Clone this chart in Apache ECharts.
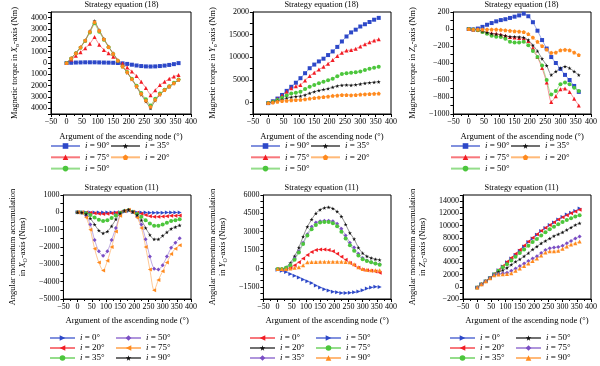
<!DOCTYPE html>
<html><head><meta charset="utf-8">
<script src="https://cdn.jsdelivr.net/npm/echarts@6/dist/echarts.min.js"></script>
<style>html,body{margin:0;padding:0;background:#fff;width:600px;height:366px;overflow:hidden}
.p{position:absolute;width:200px;height:183px}</style></head>
<body>
<div class="p" id="c1" style="left:0;top:0"></div>
<div class="p" id="c2" style="left:200px;top:0"></div>
<div class="p" id="c3" style="left:400px;top:0"></div>
<div class="p" id="c4" style="left:0;top:183px"></div>
<div class="p" id="c5" style="left:200px;top:183px"></div>
<div class="p" id="c6" style="left:400px;top:183px"></div>
<script>
// ---- data (argument of the ascending node, degrees) ----
const angles = [0,15,30,45,60,75,90,105,120,135,150,165,180,195,210,225,240,255,270,285,300,315,330,345,360];

// Panel 1: Magnetic torque in Xo-axis (Nm), strategy (18)
const p1_i90 = [0,20,40,50,60,60,60,50,40,30,20,0,-30,-80,-150,-220,-270,-300,-310,-300,-270,-230,-170,-100,-10];
const p1_i75 = [0,300,650,950,1300,1700,2300,1600,1150,850,550,250,-50,-400,-750,-1150,-1650,-2200,-2850,-2400,-1950,-1650,-1400,-1200,-1050];
const p1_i50 = [0,400,850,1350,1950,2700,3500,2750,2050,1400,800,200,-300,-800,-1400,-2000,-2650,-3200,-3750,-3150,-2700,-2350,-2050,-1750,-1450];
const p1_i35 = [0,420,880,1400,2000,2800,3700,2900,2150,1450,850,220,-300,-850,-1450,-2100,-2800,-3400,-4000,-3300,-2800,-2400,-2100,-1800,-1500];
const p1_i20 = [0,410,870,1380,1980,2750,3600,2850,2100,1420,820,210,-300,-820,-1420,-2050,-2720,-3300,-3850,-3250,-2750,-2380,-2080,-1780,-1480];

// Panel 2: Magnetic torque in Yo-axis (Nm), strategy (18)
const p2_i90 = [-100,300,900,1700,2600,3500,4400,5400,6500,7600,8400,9100,9700,10500,11300,12300,13500,14600,15500,16100,16800,17300,17800,18300,18700];
const p2_i75 = [-100,300,850,1600,2400,3200,3600,3900,4900,5900,6600,7300,7900,8600,9400,10300,11000,11500,11600,11900,12400,12900,13300,13700,14000];
const p2_i50 = [-100,200,600,1100,1600,2000,2200,2400,3000,3500,3900,4300,4600,4950,5300,5800,6300,6500,6600,6700,6900,7200,7500,7700,7900];
const p2_i35 = [-100,150,400,700,1000,1200,1350,1450,1700,2100,2400,2700,2900,3100,3400,3700,3850,3900,3850,3950,4100,4300,4400,4500,4600];
const p2_i20 = [-100,50,200,350,450,550,600,650,750,900,1050,1150,1250,1350,1500,1600,1700,1700,1650,1700,1800,1850,1900,1950,2000];

// Panel 3: Magnetic torque in Zo-axis (Nm), strategy (18)
const p3_i90 = [0,-5,5,25,50,70,90,105,115,130,145,160,180,150,80,-20,-130,-230,-330,-400,-470,-540,-600,-670,-740];
const p3_i75 = [0,-5,-10,-25,-40,-50,-55,-65,-80,-95,-100,-105,-110,-140,-220,-330,-460,-630,-860,-790,-710,-700,-740,-820,-900];
const p3_i50 = [0,-5,-15,-35,-55,-80,-90,-95,-115,-150,-160,-160,-150,-190,-260,-330,-430,-600,-770,-730,-650,-630,-650,-690,-730];
const p3_i35 = [0,-5,-10,-25,-40,-55,-60,-70,-80,-90,-90,-95,-100,-130,-190,-260,-350,-430,-540,-500,-460,-440,-460,-500,-540];
const p3_i20 = [0,-5,-5,-5,-5,-5,-5,-10,-15,-20,-25,-30,-35,-60,-100,-150,-200,-240,-280,-275,-250,-245,-250,-275,-305];

// Panel 4: Angular momentum accumulation in XO-axis (Nms), strategy (11)
const p4_i0  = [0,0,-5,-10,-10,-15,-15,-10,-10,-5,0,40,70,20,-5,-10,-15,-20,-20,-20,-20,-15,-15,-10,-10];
const p4_i20 = [0,0,-10,-30,-60,-80,-90,-80,-60,-30,0,60,100,30,-30,-80,-150,-220,-260,-260,-240,-220,-200,-190,-180];
const p4_i35 = [0,-5,-50,-150,-300,-430,-500,-450,-330,-180,-20,80,130,30,-100,-250,-450,-650,-780,-770,-700,-600,-500,-450,-400];
const p4_i50 = [0,-20,-200,-700,-1600,-2250,-2500,-2250,-1600,-900,-150,80,130,20,-250,-700,-1550,-2550,-3250,-3300,-3050,-2550,-2050,-1750,-1500];
const p4_i75 = [0,-30,-300,-1000,-2100,-2900,-3350,-2800,-2000,-1100,-200,80,150,0,-300,-900,-2000,-3300,-4500,-3900,-3400,-2900,-2400,-2100,-1900];
const p4_i90 = [0,-10,-100,-350,-700,-1050,-1200,-1100,-800,-400,-50,100,150,30,-150,-450,-900,-1300,-1550,-1550,-1350,-1150,-950,-850,-750];

// Panel 5: Angular momentum accumulation in YO-axis (Nms), strategy (11)
const p5_i0  = [-50,-100,-50,50,250,500,800,1100,1350,1500,1550,1550,1500,1400,1200,950,700,450,250,50,-100,-150,-200,-250,-350];
const p5_i20 = [-50,-50,100,450,1000,1700,2600,3400,4000,4500,4800,4950,5000,4900,4650,4250,3600,2900,2400,1700,1250,1000,850,750,700];
const p5_i35 = [-50,-50,50,300,800,1400,2100,2800,3400,3750,3850,3900,3900,3850,3650,3250,2700,2100,1700,1200,850,650,500,400,350];
const p5_i50 = [-100,-200,-300,-450,-600,-750,-900,-1050,-1200,-1400,-1550,-1700,-1800,-1900,-1950,-2000,-2000,-1980,-1950,-1880,-1780,-1650,-1550,-1500,-1520];
const p5_i75 = [-50,-50,50,250,700,1300,2000,2700,3200,3550,3750,3800,3800,3700,3450,3000,2450,1900,1450,1050,750,600,500,400,300];
const p5_i90 = [-50,-50,-50,0,50,100,250,500,520,530,540,550,550,550,550,540,530,500,350,100,-50,-100,-150,-150,-150];

// Panel 6: Angular momentum accumulation in ZO-axis (Nms), strategy (11)
const p6_i0  = [-100,400,900,1450,2050,2700,3300,4000,4600,5200,5900,6600,7300,7900,8500,9100,9600,10100,10500,11000,11400,11800,12100,12400,12800];
const p6_i20 = [-100,400,900,1450,2100,2750,3400,4100,4750,5400,6050,6750,7400,8000,8600,9150,9650,10100,10550,11000,11350,11700,12000,12300,12600];
const p6_i35 = [-100,400,900,1450,2050,2600,3200,3700,4300,4900,5500,6100,6700,7300,7800,8400,8900,9400,9800,10200,10600,10900,11200,11500,11700];
const p6_i50 = [-100,400,900,1450,2000,2400,2700,3100,3600,4100,4500,5000,5500,6100,6600,7100,7500,7900,8300,8600,8900,9300,9700,10100,10400];
const p6_i75 = [-100,400,900,1450,1950,2100,2200,2300,2600,3000,3400,3800,4200,4600,5000,5500,6000,6300,6400,6500,6700,7100,7500,7900,8200];
const p6_i90 = [-100,400,900,1400,1900,2000,2050,2100,2200,2600,3000,3400,3800,4200,4600,5100,5600,5800,5800,5900,6200,6600,6900,7100,7400];

// ---- styling ----
const FONT = 'Liberation Serif';
const BLUE = '#2d48c8', RED = '#f21c24', GREEN = '#4cc63c', BLACK = '#111111', ORANGE = '#ff8a1e', PURPLE = '#7a4ec4';
const STAR = 'path://M50,0 L61,35 L98,35 L68,57 L79,91 L50,70 L21,91 L32,57 L2,35 L39,35 Z';
const PENT = 'path://M50,0 L98,35 L79,91 L21,91 L2,35 Z';
const SQ = {symbol:'rect', rot:0}, TRI = {symbol:'triangle', rot:0}, CIR = {symbol:'circle', rot:0},
      STR = {symbol:STAR, rot:0}, PEN = {symbol:PENT, rot:0}, DIA = {symbol:'diamond', rot:0},
      TRR = {symbol:'triangle', rot:-90}, TRL = {symbol:'triangle', rot:90};

const minus = v => v < 0 ? '\u2212' + (-v) : String(v);

function yName(axis, bottom) {
  if (!bottom) return '{n|Magnetic torque in }{i|' + axis + '}{s|o}{n|-axis (Nm)}';
  return '{n|Angular momentum accumulation}\n{n|in }{i|' + axis + '}{s|O}{n|-axis (Nms)}';
}

const panels = [
  {id:'c1', title:'Strategy equation (18)', axis:'X', bottom:false, min:-4500, max:4500, step:500, lab:1000,
   fmt: v => String(Math.abs(v)), smooth:false,
   series:[['i = 90°',p1_i90,BLUE,SQ],['i = 75°',p1_i75,RED,TRI],['i = 50°',p1_i50,GREEN,CIR],['i = 35°',p1_i35,BLACK,STR],['i = 20°',p1_i20,ORANGE,PEN]],
   cols:[['i = 90°','i = 75°','i = 50°'],['i = 35°','i = 20°']]},
  {id:'c2', title:'Strategy equation (18)', axis:'Y', bottom:false, min:-2500, max:20000, step:2500, lab:5000,
   fmt: v => v === 20000 ? '2000' : minus(v), smooth:0.2,
   series:[['i = 90°',p2_i90,BLUE,SQ],['i = 75°',p2_i75,RED,TRI],['i = 50°',p2_i50,GREEN,CIR],['i = 35°',p2_i35,BLACK,STR],['i = 20°',p2_i20,ORANGE,PEN]],
   cols:[['i = 90°','i = 75°','i = 50°'],['i = 35°','i = 20°']]},
  {id:'c3', title:'Strategy equation (18)', axis:'Z', bottom:false, min:-1000, max:200, step:100, lab:200,
   fmt: minus, smooth:0.2,
   series:[['i = 90°',p3_i90,BLUE,SQ],['i = 75°',p3_i75,RED,TRI],['i = 50°',p3_i50,GREEN,CIR],['i = 35°',p3_i35,BLACK,STR],['i = 20°',p3_i20,ORANGE,PEN]],
   cols:[['i = 90°','i = 75°','i = 50°'],['i = 35°','i = 20°']]},
  {id:'c4', title:'Strategy equation (11)', axis:'X', bottom:true, min:-5000, max:1000, step:500, lab:1000,
   fmt: minus, smooth:0.3,
   series:[['i = 0°',p4_i0,BLUE,TRR],['i = 20°',p4_i20,RED,TRL],['i = 35°',p4_i35,GREEN,CIR],['i = 50°',p4_i50,PURPLE,DIA],['i = 75°',p4_i75,ORANGE,TRL],['i = 90°',p4_i90,BLACK,STR]],
   cols:[['i = 0°','i = 20°','i = 35°'],['i = 50°','i = 75°','i = 90°']]},
  {id:'c5', title:'Strategy equation (11)', axis:'Y', bottom:true, min:-2500, max:6000, step:500, lab:1500,
   fmt: minus, smooth:0.3,
   series:[['i = 0°',p5_i0,RED,TRL],['i = 20°',p5_i20,BLACK,STR],['i = 35°',p5_i35,PURPLE,DIA],['i = 50°',p5_i50,BLUE,TRR],['i = 75°',p5_i75,GREEN,CIR],['i = 90°',p5_i90,ORANGE,TRI]],
   cols:[['i = 0°','i = 20°','i = 35°'],['i = 50°','i = 75°','i = 90°']]},
  {id:'c6', title:'Strategy equation (11)', axis:'Z', bottom:true, min:-2000, max:15000, step:1000, lab:2000,
   fmt: v => v === -2000 ? '\u2212200' : minus(v), smooth:0.2,
   series:[['i = 0°',p6_i0,BLUE,TRR],['i = 20°',p6_i20,RED,TRL],['i = 35°',p6_i35,GREEN,CIR],['i = 50°',p6_i50,BLACK,STR],['i = 75°',p6_i75,PURPLE,DIA],['i = 90°',p6_i90,ORANGE,TRI]],
   cols:[['i = 0°','i = 20°','i = 35°'],['i = 50°','i = 75°','i = 90°']]}
];

const txt = (size, extra) => Object.assign({fontFamily:FONT, fontSize:size, color:'#000'}, extra || {});

function makeOption(p) {
  const gridH = p.bottom ? 104 : 102;
  const legTop = p.bottom ? 150 : 141;
  const legGap = p.bottom ? 0 : 1.3;
  const legLeft = p.bottom ? [49, 115] : [50, 110];
  const legW = p.bottom ? 25 : 29;
  const legends = p.cols.map((names, k) => ({
    orient:'vertical', left:legLeft[k], top:legTop, padding:0, itemGap:legGap,
    itemWidth:legW, itemHeight:7, itemTextGap:5, data:names, selectedMode:false,
    formatter: n => '{it|i}' + n.slice(1),
    textStyle: txt(9, {lineHeight:10, rich:{it: txt(9, {fontStyle:'italic', lineHeight:10})}})
  }));
  return {
    animation:false,
    title:{text:p.title, left:121.5, top:1, padding:0, textAlign:'center',
      textStyle: txt(8.3, {fontWeight:'normal'})},
    grid:{left:51, top:12, width:141, height:gridH, show:true, borderColor:'#000', borderWidth:1},
    legend: legends,
    xAxis:{type:'value', min:-50, max:400, interval:50,
      axisLine:{show:true, onZero:false, lineStyle:{color:'#000', width:1}},
      axisTick:{show:true, length:3, lineStyle:{color:'#000'}},
      minorTick:{show:true, splitNumber:2, length:2, lineStyle:{color:'#000'}},
      splitLine:{show:false},
      axisLabel: txt(8, {margin:4, formatter: minus}),
      name:'Argument of the ascending node (°)', nameLocation:'middle', nameGap: p.bottom ? 16 : 18,
      nameTextStyle: txt(8.6)},
    yAxis:{type:'value', min:p.min, max:p.max, interval:p.step,
      axisLine:{show:true, onZero:false, lineStyle:{color:'#000', width:1}},
      axisTick:{show:true, length:3, lineStyle:{color:'#000'}},
      splitLine:{show:false},
      axisLabel: txt(8, {margin:4, formatter: v => (Math.round(v) % p.lab === 0 ? p.fmt(v) : '')}),
      name: yName(p.axis, p.bottom), nameLocation:'middle', nameGap:31,
      nameTextStyle: txt(8.5, {lineHeight:10, rich:{
        n: txt(8.5, {lineHeight:10}),
        i: txt(8.5, {fontStyle:'italic', lineHeight:10}),
        s: txt(6, {lineHeight:10, verticalAlign:'bottom', padding:[3,0,0,0]})
      }})},
    series: p.series.map(([name, arr, color, sym]) => ({
      type:'line', name, data: angles.map((a, k) => [a, arr[k]]),
      symbol: sym.symbol, symbolRotate: sym.rot, symbolSize: 4, smooth: p.smooth,
      itemStyle:{color}, lineStyle:{color, width:0.8, opacity:0.6}
    }))
  };
}

panels.forEach(p => {
  const chart = echarts.init(document.getElementById(p.id), null, {renderer:'canvas'});
  chart.setOption(makeOption(p));
});
</script>
</body></html>
